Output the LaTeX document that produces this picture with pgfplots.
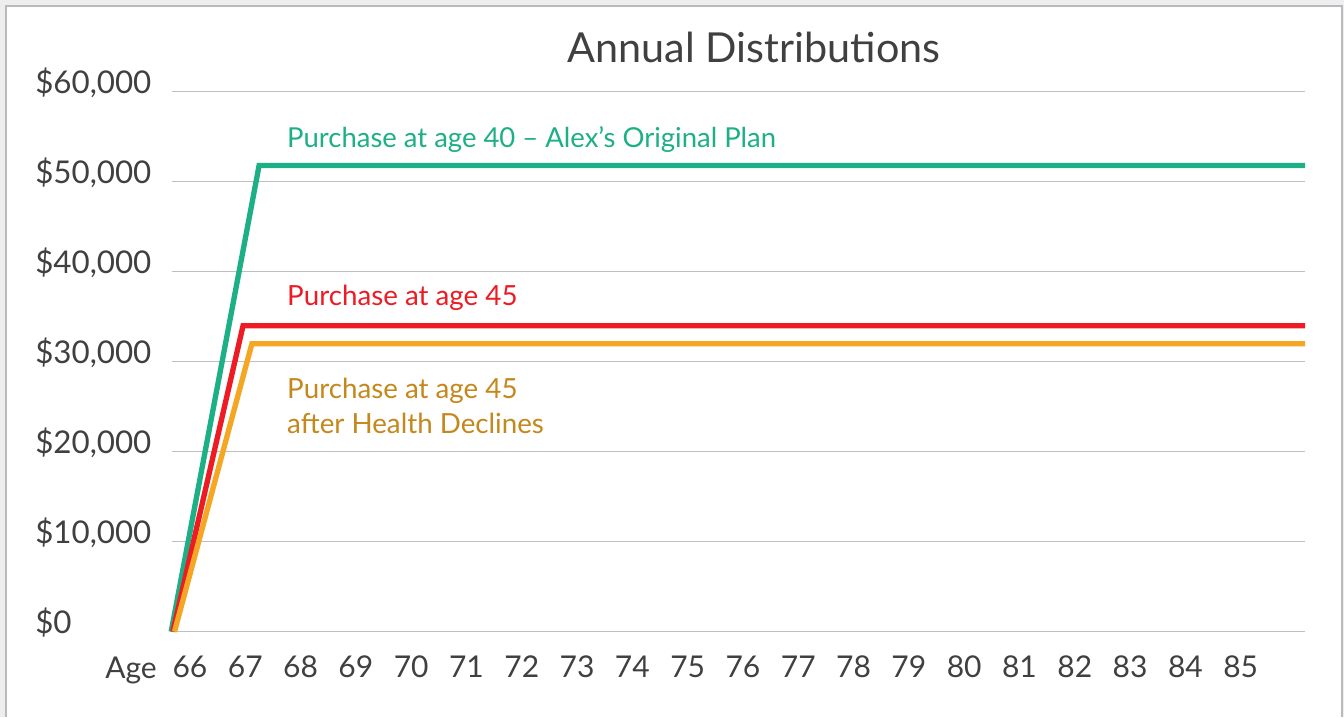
\documentclass[border=0pt]{standalone}
\usepackage{fontspec}
\setmainfont{Lato}
\usepackage{pgfplots}
\pgfplotsset{compat=1.18}
\definecolor{cgreen}{RGB}{29,176,134}
\definecolor{cred}{RGB}{237,28,36}
\definecolor{corange}{RGB}{245,166,35}
\definecolor{corangetext}{RGB}{196,136,28}
\definecolor{cgrid}{RGB}{190,190,196}
\definecolor{ctext}{RGB}{64,64,64}
\definecolor{cbg}{RGB}{238,238,238}
\definecolor{cframe}{RGB}{185,185,190}
\begin{document}
\begin{tikzpicture}[x=0.75pt,y=0.75pt]
\useasboundingbox (0,0) rectangle (1344,717);
\fill[cbg] (0,0) rectangle (1344,717);
\fill[white] (6,0) rectangle (1342,711);
\draw[cframe, line width=1.1pt] (6,0) -- (6,711) -- (1342,711) -- (1342,0);
\node[anchor=base, inner sep=0pt, font=\fontsize{31}{37}\selectfont, text=ctext] at (754,654.3) {Annual Distributions};
\node[anchor=base west, inner sep=0pt, font=\fontsize{22.5}{27}\selectfont, text=ctext] at (105,39) {Age};
\begin{axis}[
  at={(129pt,63.975pt)}, anchor=south west,
  scale only axis, width=849.75pt, height=405pt,
  xmin=65.675, xmax=86.163, ymin=0, ymax=60000,
  clip=false,
  axis line style={draw=none},
  major tick length=0pt,
  ymajorgrids, grid style={cgrid, line width=1pt},
  xtick={66,...,85},
  ytick={0,10000,20000,30000,40000,50000,60000},
  yticklabels={{\$0},{\$10,000},{\$20,000},{\$30,000},{\$40,000},{\$50,000},{\$60,000}},
  scaled y ticks=false,
  /pgf/number format/assume math mode=true,
  xticklabel style={anchor=base, inner sep=0pt, yshift=-34.7pt, font=\fontsize{22.5}{27}\selectfont, text=ctext},
  yticklabel style={anchor=base west, inner sep=0pt, xshift=-102.75pt, yshift=-1.5pt, font=\fontsize{23.5}{28}\selectfont, text=ctext},
]
\addplot[cgreen, line width=4pt, line join=miter] coordinates {(65.66,0) (67.25,51800) (86.163,51800)};
\addplot[cred, line width=4pt, line join=miter] coordinates {(65.69,0) (66.96,34000) (86.163,34000)};
\addplot[corange, line width=4pt, line join=miter] coordinates {(65.72,0) (67.12,32000) (86.163,32000)};
\node[anchor=base west, inner sep=0pt, font=\fontsize{20.6}{25}\selectfont, text=cgreen] at (axis cs:67.754,53778) {Purchase at age 40 – Alex’s Original Plan};
\node[anchor=base west, inner sep=0pt, font=\fontsize{20.8}{25}\selectfont, text=cred] at (axis cs:67.754,36300) {Purchase at age 45};
\node[anchor=base west, inner sep=0pt, font=\fontsize{20.8}{25}\selectfont, text=corangetext] at (axis cs:67.754,25933) {Purchase at age 45};
\node[anchor=base west, inner sep=0pt, font=\fontsize{20.8}{25}\selectfont, text=corangetext] at (axis cs:67.754,21967) {after Health Declines};
\end{axis}
\end{tikzpicture}
\end{document}
